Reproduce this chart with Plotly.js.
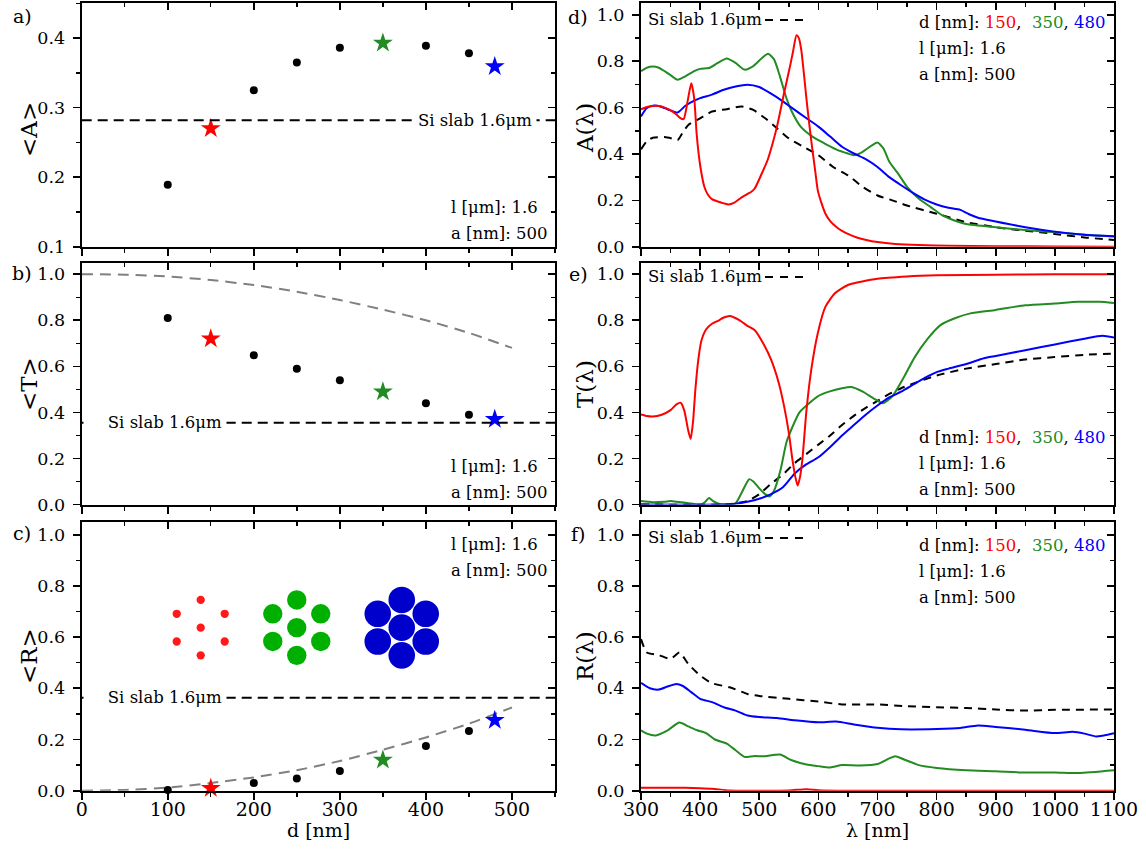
<!DOCTYPE html>
<html>
<head>
<meta charset="utf-8">
<script src="https://cdn.plot.ly/plotly-3.0.1.min.js"></script>
<style>
  html, body { margin: 0; padding: 0; background: #fff; }
  #chart { width: 1146px; height: 853px; }
</style>
</head>
<body>
<div id="chart"></div>
<script>
// ---- averaged quantities vs. rod diameter d ----
const dPoints = [100, 200, 250, 300, 400, 450];
const absPoints = [0.189, 0.325, 0.365, 0.386, 0.389, 0.378];
const transPoints = [0.81, 0.648, 0.59, 0.54, 0.44, 0.39];
const reflPoints = [0.003, 0.03, 0.048, 0.077, 0.175, 0.233];

const dHighlight = [150, 350, 480];
const absHighlight = [0.270, 0.393, 0.359];
const transHighlight = [0.72, 0.49, 0.37];
const reflHighlight = [0.01, 0.12, 0.275];

const dModel = [0, 50, 100, 150, 200, 250, 300, 350, 400, 450, 500];
const transModel = [1.0, 0.998, 0.99, 0.975, 0.953, 0.924, 0.888, 0.846, 0.80, 0.745, 0.68];
const reflModel = [0, 0.003, 0.012, 0.03, 0.052, 0.08, 0.116, 0.16, 0.208, 0.262, 0.325];

// Si slab reference (1.6 µm)
const slabAbs = 0.282;
const slabTrans = 0.355;
const slabRefl = 0.363;

// ---- spectra A(λ) ----
const lamA150 = [300,310,320,330,340,350,360,366,372,379,385,390,394,398,402,407,413,420,430,440,448,458,467,475,481,486,492,498,505,514,522,530,536,542,547,552,557,563,567,571,575,580,585,590,595,599,605,612,620,631,640,650,665,681,700,730,770,820,900,1000,1100];
const absSpec150 = [0.593,0.603,0.607,0.607,0.600,0.588,0.570,0.556,0.55,0.63,0.705,0.64,0.49,0.39,0.32,0.26,0.225,0.205,0.195,0.187,0.182,0.19,0.207,0.22,0.229,0.236,0.25,0.28,0.32,0.373,0.44,0.518,0.59,0.663,0.72,0.778,0.84,0.912,0.90,0.85,0.76,0.634,0.52,0.417,0.32,0.243,0.19,0.142,0.11,0.084,0.068,0.055,0.04,0.029,0.02,0.012,0.007,0.004,0.002,0.001,0.0];

const lamA350 = [300,310,320,330,340,350,362,375,390,400,415,430,445,460,475,490,505,515,525,535,545,555,570,590,610,630,650,660,670,690,700,710,720,735,750,770,790,810,830,850,900,950,1000,1050,1100];
const absSpec350 = [0.757,0.772,0.777,0.772,0.757,0.74,0.72,0.735,0.757,0.767,0.771,0.793,0.812,0.793,0.764,0.779,0.815,0.832,0.808,0.735,0.648,0.583,0.518,0.475,0.446,0.42,0.402,0.395,0.402,0.436,0.449,0.424,0.366,0.315,0.258,0.207,0.171,0.135,0.113,0.098,0.084,0.072,0.062,0.052,0.044];

const lamA480 = [300,310,320,330,340,350,362,375,390,400,420,440,460,480,500,520,540,560,580,600,620,640,660,680,700,720,740,760,780,800,820,840,855,870,900,950,1000,1050,1100];
const absSpec480 = [0.562,0.598,0.608,0.607,0.598,0.588,0.579,0.608,0.63,0.641,0.656,0.677,0.691,0.699,0.689,0.66,0.627,0.59,0.554,0.518,0.475,0.431,0.402,0.378,0.344,0.30,0.265,0.232,0.203,0.182,0.168,0.159,0.14,0.125,0.109,0.084,0.065,0.052,0.045];

const lamASlab = [300,310,320,340,355,362,370,380,400,420,445,470,490,510,530,550,575,600,625,650,675,700,725,750,800,850,900,950,1000,1050,1100];
const absSpecSlab = [0.42,0.455,0.47,0.473,0.465,0.46,0.49,0.525,0.554,0.583,0.593,0.605,0.59,0.554,0.511,0.467,0.431,0.395,0.344,0.308,0.258,0.221,0.2,0.178,0.142,0.106,0.084,0.069,0.055,0.04,0.029];

// ---- spectra T(λ) ----
const lamT150 = [300,310,320,335,350,360,367,373,380,384,388,392,397,402,410,420,432,440,450,467,480,492,508,520,533,542,550,556,561,565,569,573,580,588,599,612,628,650,700,750,800,900,1000,1100];
const transSpec150 = [0.391,0.384,0.382,0.39,0.41,0.435,0.442,0.41,0.32,0.285,0.36,0.5,0.63,0.71,0.76,0.785,0.80,0.812,0.819,0.80,0.776,0.758,0.694,0.629,0.528,0.427,0.312,0.197,0.12,0.082,0.12,0.197,0.413,0.586,0.744,0.859,0.917,0.953,0.98,0.99,0.995,0.998,1.0,1.0];

const lamT350 = [300,320,340,350,360,370,380,390,400,408,415,422,430,440,450,460,470,483,490,500,510,517,525,536,546,555,568,580,599,618,640,656,675,694,709,725,744,763,785,807,832,857,900,950,1000,1040,1075,1100];
const transSpec350 = [0.015,0.01,0.012,0.015,0.012,0.01,0.005,0.002,0.0,0.01,0.028,0.015,0.005,0.0,0.0,0.005,0.05,0.11,0.10,0.07,0.045,0.035,0.06,0.15,0.27,0.33,0.40,0.43,0.47,0.49,0.505,0.51,0.49,0.46,0.44,0.47,0.55,0.64,0.72,0.78,0.81,0.83,0.845,0.865,0.873,0.88,0.88,0.875];

const lamT480 = [300,440,460,480,500,520,540,560,580,600,620,640,660,680,700,720,740,760,780,800,820,850,880,900,950,1000,1050,1080,1100];
const transSpec480 = [0.0,0.0,0.003,0.012,0.025,0.045,0.075,0.135,0.175,0.205,0.25,0.30,0.345,0.39,0.43,0.465,0.49,0.52,0.55,0.575,0.59,0.61,0.635,0.645,0.67,0.695,0.72,0.733,0.725];

const lamTSlab = [300,440,460,480,500,520,540,560,580,600,620,640,660,680,700,720,740,760,800,850,900,950,1000,1050,1100];
const transSpecSlab = [0.0,0.0,0.005,0.015,0.045,0.09,0.13,0.18,0.22,0.26,0.30,0.345,0.385,0.42,0.45,0.48,0.505,0.525,0.56,0.59,0.61,0.63,0.64,0.65,0.655];

// ---- spectra R(λ) ----
const lamR150 = [300,350,400,420,450,500,550,580,600,650,700,800,900,1000,1100];
const reflSpec150 = [0.012,0.012,0.01,0.008,0.001,0.0,0.001,0.006,0.002,0.0,0.0,0.0,0.0,0.0,0.0];

const lamR350 = [300,310,325,345,365,380,395,410,425,445,460,475,490,510,535,555,580,600,620,640,670,700,720,730,745,770,800,850,900,950,1000,1040,1100];
const reflSpec350 = [0.236,0.223,0.216,0.236,0.266,0.251,0.236,0.225,0.2,0.184,0.158,0.132,0.135,0.135,0.141,0.119,0.102,0.096,0.091,0.1,0.098,0.104,0.126,0.135,0.122,0.1,0.089,0.08,0.076,0.071,0.071,0.069,0.08];

const lamR480 = [300,315,330,345,360,370,385,400,420,440,460,480,500,530,560,600,630,660,700,740,800,840,870,900,950,1000,1030,1050,1070,1100];
const reflSpec480 = [0.421,0.40,0.395,0.407,0.417,0.41,0.385,0.359,0.346,0.326,0.313,0.294,0.288,0.284,0.275,0.267,0.27,0.259,0.246,0.24,0.241,0.245,0.255,0.249,0.238,0.225,0.23,0.223,0.212,0.225];

const lamRSlab = [300,310,330,350,365,380,400,420,450,480,500,550,600,640,700,750,800,850,900,950,1000,1100];
const reflSpecSlab = [0.592,0.54,0.53,0.515,0.54,0.495,0.45,0.42,0.404,0.378,0.37,0.359,0.348,0.337,0.337,0.33,0.326,0.323,0.317,0.313,0.316,0.317];

// lattice sketch: rod diameters and pitch (nm)
const sketchDiameters = [150, 350, 480];
const latticePitch = 500;

// ---- styling ----
const FONT = 'DejaVu Serif, serif';
const RED = '#ff0000', GREEN = '#228b22', BLUE = '#0000ff';
const SKETCH_COLORS = ['#ff1a1a', '#00b000', '#0000cc'];
const W = 1146, H = 853;
const px = x => x / W;
const py = y => 1 - y / H;

const colX = { L: [81.7 / W, 555 / W], R: [641 / W, 1114 / W] };
const rowY = {
  a: [1 - 246.7 / H, 1 - 3.3 / H],
  b: [1 - 504.5 / H, 1 - 262.7 / H],
  c: [1 - 790.7 / H, 1 - 521.9 / H]
};

// subplot index: 1=a, 2=d, 3=b, 4=e, 5=c, 6=f
const panels = [
  { col: 'L', row: 'a', xr: [0, 550], yr: [0.1, 0.45], dy: 0.1, xlab: false },
  { col: 'R', row: 'a', xr: [300, 1100], yr: [0, 1.05], dy: 0.2, xlab: false },
  { col: 'L', row: 'b', xr: [0, 550], yr: [0, 1.05], dy: 0.2, xlab: false },
  { col: 'R', row: 'b', xr: [300, 1100], yr: [0, 1.05], dy: 0.2, xlab: false },
  { col: 'L', row: 'c', xr: [0, 550], yr: [0, 1.05], dy: 0.2, xlab: true },
  { col: 'R', row: 'c', xr: [300, 1100], yr: [0, 1.05], dy: 0.2, xlab: true }
];

const layout = {
  width: W, height: H,
  margin: { l: 0, r: 0, t: 0, b: 0 },
  paper_bgcolor: '#fff', plot_bgcolor: 'rgba(0,0,0,0)',
  showlegend: false,
  font: { family: FONT, size: 18, color: '#000' },
  annotations: [], shapes: []
};

const tickBase = {
  showgrid: false, zeroline: false, showline: true,
  linecolor: '#000', linewidth: 2,
  tickcolor: '#000', tickwidth: 1.6, ticklen: 7
};
const minorOut = { ticks: 'outside', ticklen: 4, tickwidth: 1.4, tickcolor: '#000', showgrid: false };
const minorIn = { ticks: 'inside', ticklen: 4, tickwidth: 1.4, tickcolor: '#000', showgrid: false };

const traces = [];

panels.forEach((p, k) => {
  const i = k + 1, j = k + 7;
  const xdom = colX[p.col], ydom = rowY[p.row];
  const ydt = p.dy;
  layout['xaxis' + i] = Object.assign({}, tickBase, {
    domain: xdom, range: p.xr, anchor: 'y' + i, side: 'bottom',
    ticks: 'outside', dtick: 100, tick0: 0, showticklabels: p.xlab,
    ticklabelstandoff: -7,
    tickfont: { family: FONT, size: 19, color: '#000' },
    minor: Object.assign({ dtick: 50 }, minorOut)
  });
  layout['yaxis' + i] = Object.assign({}, tickBase, {
    domain: ydom, range: p.yr, anchor: 'x' + i, side: 'left',
    ticks: 'outside', dtick: ydt, tick0: 0, tickformat: '.1f',
    ticklabelstandoff: 4,
    tickfont: { family: FONT, size: 17.5, color: '#000' },
    minor: Object.assign({ dtick: ydt / 2 }, minorOut)
  });
  // mirrored frame with inward ticks
  layout['xaxis' + j] = Object.assign({}, tickBase, {
    domain: xdom, range: p.xr, anchor: 'y' + i, overlaying: 'x' + i, side: 'top',
    ticks: 'inside', dtick: 100, tick0: 0, showticklabels: false,
    minor: Object.assign({ dtick: 50 }, minorIn)
  });
  layout['yaxis' + j] = Object.assign({}, tickBase, {
    domain: ydom, range: p.yr, anchor: 'x' + i, overlaying: 'y' + i, side: 'right',
    ticks: 'inside', dtick: ydt, tick0: 0, showticklabels: false,
    minor: Object.assign({ dtick: ydt / 2 }, minorIn)
  });
  traces.push({ x: [], y: [], xaxis: 'x' + j, yaxis: 'y' + i, type: 'scatter', hoverinfo: 'skip' });
  traces.push({ x: [], y: [], xaxis: 'x' + i, yaxis: 'y' + j, type: 'scatter', hoverinfo: 'skip' });
});

function curve(x, y, color, i, dash, width) {
  return {
    x, y, type: 'scatter', mode: 'lines', xaxis: 'x' + i, yaxis: 'y' + i,
    line: { color, width: width || 2, dash: dash || 'solid', shape: 'spline', smoothing: 0.6 },
    hoverinfo: 'skip'
  };
}
function dots(x, y, i) {
  return {
    x, y, type: 'scatter', mode: 'markers', xaxis: 'x' + i, yaxis: 'y' + i,
    marker: { color: '#000', size: 8 }, hoverinfo: 'skip', cliponaxis: false
  };
}
function stars(x, y, i) {
  return {
    x, y, type: 'scatter', mode: 'markers', xaxis: 'x' + i, yaxis: 'y' + i,
    marker: { color: [RED, GREEN, BLUE], size: 15, symbol: 'star', line: { width: 0 } },
    hoverinfo: 'skip', cliponaxis: false
  };
}
function slabLine(val, i) {
  layout.shapes.push({
    type: 'line', xref: 'x' + i + ' domain', x0: 0, x1: 1, yref: 'y' + i, y0: val, y1: val,
    line: { color: '#000', width: 2, dash: '10px,6px' }, layer: 'above'
  });
}

// (a) <A>
slabLine(slabAbs, 1);
traces.push(dots(dPoints, absPoints, 1));
traces.push(stars(dHighlight, absHighlight, 1));
// (b) <T>
traces.push(curve(dModel, transModel, '#808080', 3, '11px,7px', 2));
slabLine(slabTrans, 3);
traces.push(dots(dPoints, transPoints, 3));
traces.push(stars(dHighlight, transHighlight, 3));
// (c) <R>
traces.push(curve(dModel, reflModel, '#808080', 5, '11px,7px', 2));
slabLine(slabRefl, 5);
traces.push(dots(dPoints, reflPoints, 5));
traces.push(stars(dHighlight, reflHighlight, 5));

// (d) A(λ)
traces.push(curve(lamASlab, absSpecSlab, '#000', 2, '8px,6px'));
traces.push(curve(lamA350, absSpec350, GREEN, 2));
traces.push(curve(lamA480, absSpec480, BLUE, 2));
traces.push(curve(lamA150, absSpec150, RED, 2));
// (e) T(λ)
traces.push(curve(lamTSlab, transSpecSlab, '#000', 4, '8px,6px'));
traces.push(curve(lamT350, transSpec350, GREEN, 4));
traces.push(curve(lamT480, transSpec480, BLUE, 4));
traces.push(curve(lamT150, transSpec150, RED, 4));
// (f) R(λ)
traces.push(curve(lamRSlab, reflSpecSlab, '#000', 6, '8px,6px'));
traces.push(curve(lamR350, reflSpec350, GREEN, 6));
traces.push(curve(lamR480, reflSpec480, BLUE, 6));
traces.push(curve(lamR150, reflSpec150, RED, 6));

// lattice sketches in panel (c): hexagonal cell of seven rods each
const sketchCenters = [[138.3, 0.637], [249.9, 0.637], [371.9, 0.637]];
const pitchPx = 27.7;
const hexOffsets = [[0, 0], [0, 1], [0, -1], [-0.866, 0.5], [-0.866, -0.5], [0.866, 0.5], [0.866, -0.5]];
sketchDiameters.forEach((dia, k) => {
  const r = dia / latticePitch * pitchPx / 2;
  const [cx, cy] = sketchCenters[k];
  hexOffsets.forEach(([ox, oy]) => {
    layout.shapes.push({
      type: 'circle', xref: 'x5', yref: 'y5',
      xsizemode: 'pixel', ysizemode: 'pixel', xanchor: cx, yanchor: cy,
      x0: ox * pitchPx - r, x1: ox * pitchPx + r,
      y0: oy * pitchPx - r, y1: oy * pitchPx + r,
      fillcolor: SKETCH_COLORS[k], line: { width: 0 }, layer: 'above'
    });
  });
});

// ---- text ----
const ann = layout.annotations;
function txt(text, x, y, opts) {
  ann.push(Object.assign({
    text, xref: 'paper', yref: 'paper', x: px(x), y: py(y),
    showarrow: false, xanchor: 'left', yanchor: 'middle',
    font: { family: FONT, size: 16.5, color: '#000' }
  }, opts || {}));
}

// panel letters
[['a)', 22, 16], ['b)', 22, 273], ['c)', 22, 533], ['d)', 578, 17], ['e)', 578, 274], ['f)', 578, 534]]
  .forEach(([t, x, y]) => txt(t, x, y, { xanchor: 'center', font: { family: FONT, size: 19, color: '#000' } }));

// axis titles
const titleFont = { family: FONT, size: 23, color: '#000' };
txt('&lt;A&gt;', 29, 130, { xanchor: 'center', textangle: -90, font: titleFont });
txt('&lt;T&gt;', 29, 384, { xanchor: 'center', textangle: -90, font: titleFont });
txt('&lt;R&gt;', 29, 656, { xanchor: 'center', textangle: -90, font: titleFont });
txt('A(λ)', 585, 128, { xanchor: 'center', textangle: -90, font: titleFont });
txt('T(λ)', 585, 384, { xanchor: 'center', textangle: -90, font: titleFont });
txt('R(λ)', 585, 656, { xanchor: 'center', textangle: -90, font: titleFont });
txt('d [nm]', 318, 830, { xanchor: 'center', font: { family: FONT, size: 19, color: '#000' } });
txt('λ [nm]', 877, 830, { xanchor: 'center', font: { family: FONT, size: 19, color: '#000' } });

// slab labels on the averaged panels (white box interrupts the dashed line)
ann.push({ text: 'Si slab 1.6μm', xref: 'x1', yref: 'y1', x: (476 - 81.7) / 0.8618, y: slabAbs,
  showarrow: false, xanchor: 'center', yanchor: 'middle', bgcolor: '#fff', borderpad: 4,
  font: { family: FONT, size: 16.5, color: '#000' } });
ann.push({ text: 'Si slab 1.6μm', xref: 'x3', yref: 'y3', x: 2, y: slabTrans,
  showarrow: false, xanchor: 'left', yanchor: 'middle', bgcolor: '#fff', borderpad: 4,
  width: 134, align: 'right', font: { family: FONT, size: 16.5, color: '#000' } });
ann.push({ text: 'Si slab 1.6μm', xref: 'x5', yref: 'y5', x: 2, y: slabRefl,
  showarrow: false, xanchor: 'left', yanchor: 'middle', bgcolor: '#fff', borderpad: 4,
  width: 134, align: 'right', font: { family: FONT, size: 16.5, color: '#000' } });

// parameter notes, left panels
[[208, 233], [466, 492], [544, 570]].forEach(([y1, y2]) => {
  txt('l [μm]: 1.6', 449, y1);
  txt('a [nm]: 500', 449, y2);
});

// slab legend and parameter notes, right panels
const dLine = 'd [nm]: <span style="color:' + RED + '">150</span>,\u00a0 <span style="color:' + GREEN +
  '">350</span>, <span style="color:' + BLUE + '">480</span>';
[[19, 22, 48, 74], [276, 437, 463, 489], [537, 545, 571, 597]].forEach(([ys, y1, y2, y3]) => {
  txt('Si slab 1.6μm', 646, ys);
  layout.shapes.push({
    type: 'line', xref: 'paper', yref: 'paper', x0: px(765), x1: px(806), y0: py(ys + 1), y1: py(ys + 1),
    line: { color: '#000', width: 2, dash: '8px,7px' }
  });
  txt(dLine, 917, y1);
  txt('l [μm]: 1.6', 917, y2);
  txt('a [nm]: 500', 917, y3);
});

Plotly.newPlot('chart', traces, layout, { staticPlot: true, displayModeBar: false });
</script>
</body>
</html>
